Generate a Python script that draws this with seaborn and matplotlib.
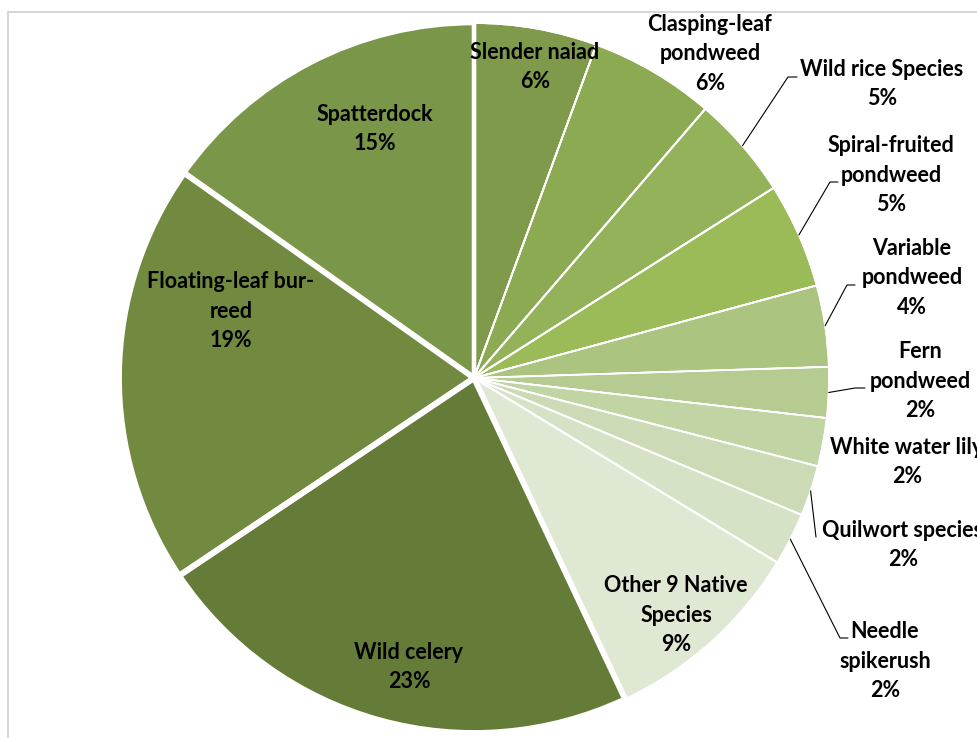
import matplotlib
matplotlib.use("Agg")
import matplotlib.pyplot as plt
import seaborn as sns
import numpy as np

# species share of native plants (clockwise from 12 o'clock)
species = ["Slender naiad", "Clasping-leaf\npondweed", "Wild rice Species",
           "Spiral-fruited\npondweed", "Variable\npondweed", "Fern\npondweed",
           "White water lily", "Quilwort species", "Needle\nspikerush",
           "Other 9 Native\nSpecies", "Wild celery", "Floating-leaf bur-\nreed",
           "Spatterdock"]
shares = [5.6, 5.7, 4.7, 4.8, 3.7, 2.3, 2.2, 2.3, 2.4, 9.3, 22.6, 19.2, 15.2]
colors = ["#7E9A4A", "#8BAA52", "#93B25A", "#9BBB59", "#ABC47F", "#B6CB91",
          "#C1D4A3", "#CCDBB6", "#D6E2C5", "#DFE8D3", "#657B38", "#718A40",
          "#7A9648"]

sns.set_theme(style="white")
plt.rcParams["font.family"] = ["Lato", "DejaVu Sans"]

W, H = 977, 738
CX, CY, R = 474, 378, 355


def px(x, y):
    return (x - CX) / R, (CY - y) / R


fig = plt.figure(figsize=(W / 100, H / 100), dpi=100)
ax = fig.add_axes([0, 0, 1, 1])

# chart area frame (cropped at right and bottom)
fig.add_artist(plt.Line2D([8 / W, 8 / W], [0, 1 - 12 / H], color="#D0D0D0", lw=1.2))
fig.add_artist(plt.Line2D([8 / W, 1], [1 - 12 / H, 1 - 12 / H], color="#D0D0D0", lw=1.2))

wedges, _ = ax.pie(shares, colors=sns.color_palette(colors), startangle=90,
                   counterclock=False, radius=1, center=(0, 0),
                   wedgeprops=dict(edgecolor="white", linewidth=1.3))

# thicker white borders on the big slices
border_w = [1.3, 1.3, 1.3, 1.3, 1.0, 1.0, 1.0, 1.0, 1.0, 1.5, 4.2, 4.2, 3.3]
outline, _ = ax.pie(shares, colors=["none"] * len(shares), startangle=90,
                    counterclock=False, radius=1, center=(0, 0),
                    wedgeprops=dict(edgecolor="white", linewidth=1))
for w, lw in zip(outline, border_w):
    w.set_linewidth(lw)
    w.set_facecolor("none")

ax.set_aspect("auto")
ax.set_xlim(-CX / R, (W - CX) / R)
ax.set_ylim((CY - H) / R, CY / R)
ax.axis("off")

# label centres in pixels
label_pos = [(535, 67), (710, 54), (882, 84), (891, 175), (912, 278),
             (920, 381), (907, 462), (903, 545), (885, 661), (676, 615),
             (409, 667), (231, 311), (375, 129)]
# leader elbows (None = no leader)
leaders = [None, None, ((788, 77), (797, 77)), ((830, 182), (838, 182)),
           ((847, 285), (855, 285)), ((855, 388), (865, 388)), None,
           ((816, 537), (816, 537)), ((840, 638), (848, 638)), None, None,
           None, None]

for w, name, v, pos, ld in zip(wedges, species, shares, label_pos, leaders):
    x, y = px(*pos)
    ax.text(x, y, f"{name}\n{round(v)}%", ha="center", va="center",
            fontsize=15.5, fontweight="bold", color="black", linespacing=1.5)
    if ld is not None:
        ang = np.deg2rad((w.theta1 + w.theta2) / 2)
        sx, sy = np.cos(ang), np.sin(ang)
        ex, ey = px(*ld[0])
        fx, fy = px(*ld[1])
        ax.plot([sx, ex, fx], [sy, ey, fy], color="black", lw=0.8)

fig.savefig("out.png", dpi=100)
